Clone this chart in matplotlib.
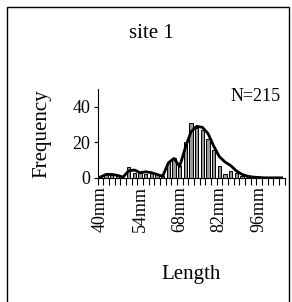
import matplotlib
matplotlib.use('Agg')
import matplotlib.pyplot as plt
from matplotlib.patches import Rectangle

# length classes (2mm steps)
lengths = [40 + 2 * i for i in range(33)]
counts = [1, 2, 2, 1, 0, 6, 3, 3, 2, 3, 2, 1, 9, 11, 7, 20, 31, 28, 27, 22,
          16, 7, 2, 4, 3, 1, 1, 0, 0, 0, 0, 0, 0]
# smoothed curve
smooth = [0.5, 2, 2, 1.5, 0.5, 4, 4.5, 3, 3.5, 3, 2, 1, 8.5, 11, 6.5, 17, 26,
          29, 28.5, 25, 18, 12, 9, 7, 4, 2, 1, 0.5, 0.3, 0.1, 0.1, 0.1, 0.1]
label_every = 7

plt.rcParams['font.family'] = ['Liberation Serif', 'DejaVu Serif']

fig = plt.figure(figsize=(2.92, 3.02), dpi=100)

# outer frame (bottom edge falls outside the picture)
fig.patches.append(Rectangle((7 / 292, -0.5), 282 / 292, 1.5 - 7 / 302,
                             transform=fig.transFigure, fill=False,
                             edgecolor='black', linewidth=1.0))

ax = fig.add_axes([97.5 / 292, 1 - 178 / 302, 187 / 292, 89 / 302])

x = list(range(len(lengths)))
ax.bar(x, counts, width=0.55, color='#999999', edgecolor='black', linewidth=0.7, zorder=2)
ax.plot(x, smooth, color='black', linewidth=2.0, zorder=3)

ax.set_xlim(-0.5, len(lengths) - 0.5)
ax.set_ylim(0, 50)

ax.set_yticks([0, 20, 40])
ax.tick_params(axis='y', direction='out', length=3, width=0.8, labelsize=13, pad=2)

pos = [i for i in x if i % label_every == 0]
ax.set_xticks(pos, ['%dmm' % lengths[i] for i in pos], rotation=90)
ax.tick_params(axis='x', which='major', length=0, labelsize=13, pad=6)
ax.set_xticks([i - 0.5 for i in range(len(lengths) + 1)], minor=True)
ax.tick_params(axis='x', which='minor', direction='out', length=5, width=0.8)

for s in ['top', 'right']:
    ax.spines[s].set_visible(False)
for s in ['left', 'bottom']:
    ax.spines[s].set_linewidth(0.8)

ax.set_ylabel('Frequency', fontsize=15, labelpad=15)
ax.text(0.98, 0.92, 'N=215', transform=ax.transAxes, ha='right', va='center', fontsize=13)

fig.text(151 / 292, 1 - 34 / 302, 'site 1', ha='center', va='center', fontsize=15)
fig.text(191 / 292, 1 - 274 / 302, 'Length', ha='center', va='center', fontsize=15)

fig.savefig('out.png', dpi=100)
